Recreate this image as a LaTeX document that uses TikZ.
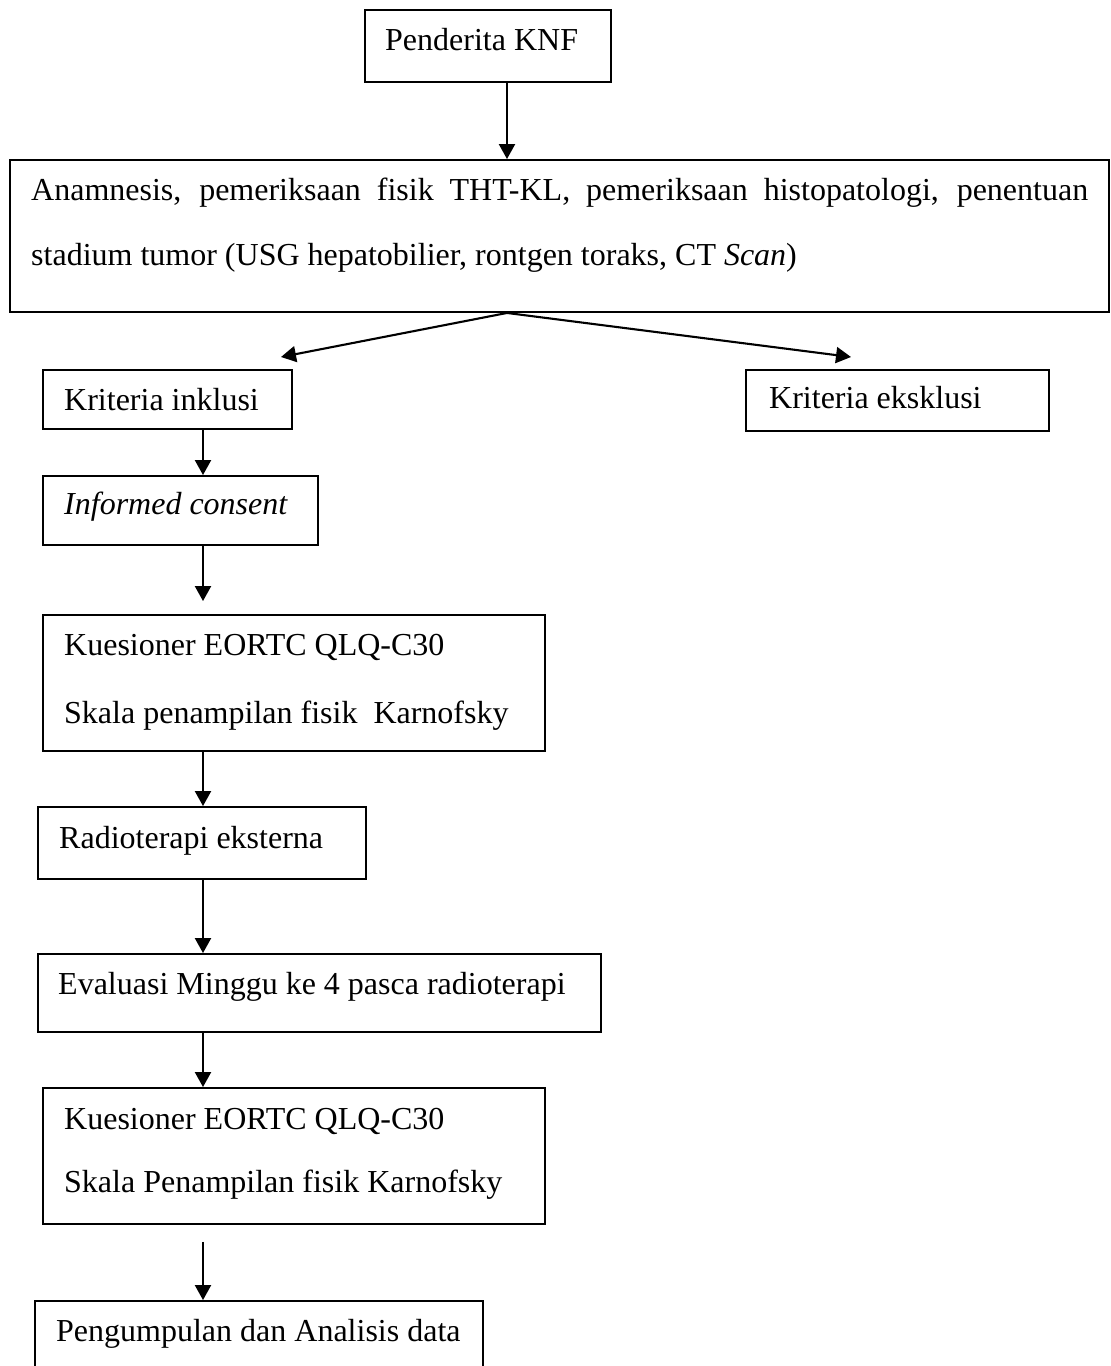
\documentclass[tikz,border=0pt]{standalone}
\usepackage{fontspec}
\setmainfont{Liberation Serif}
\usetikzlibrary{arrows.meta}
\begin{document}
\begin{tikzpicture}[x=1pt,y=-1pt,
  box/.style={draw, line width=1.9pt, inner sep=0pt},
  txt/.style={anchor=base west, inner sep=0pt, font=\fontsize{32pt}{38pt}\selectfont},
  arr/.style={line width=2.1pt, -{Triangle[width=16pt,length=15pt]}}]
\clip (0,0) rectangle (1111,1366);
\fill[white] (0,0) rectangle (1111,1366);
% boxes
\node[box, minimum width=246pt, minimum height=72pt] (b1) at (488,46) {};
\node[box, minimum width=1099pt, minimum height=152pt] (b2) at (559.5,236) {};
\node[box, minimum width=249pt, minimum height=59pt] (inkl) at (167.5,399.5) {};
\node[box, minimum width=303pt, minimum height=61pt] (eks) at (897.5,400.5) {};
\node[box, minimum width=275pt, minimum height=69pt] (ic) at (180.5,510.5) {};
\node[box, minimum width=502pt, minimum height=136pt] (k1) at (294,683) {};
\node[box, minimum width=328pt, minimum height=72pt] (rad) at (202,843) {};
\node[box, minimum width=563pt, minimum height=78pt] (ev) at (319.5,993) {};
\node[box, minimum width=502pt, minimum height=136pt] (k2) at (294,1156) {};
\node[box, minimum width=448pt, minimum height=89pt] (peng) at (259,1345.5) {};
% texts
\node[txt] (t1) at (385,50) {Penderita KNF};
\node[txt] (t2a) at (31,200) {\makebox[1057pt][s]{Anamnesis, pemeriksaan fisik THT-KL, pemeriksaan histopatologi, penentuan}};
\node[txt] (t2b) at (31,265) {stadium tumor (USG hepatobilier, rontgen toraks, CT \textit{Scan})};
\node[txt] (t3) at (64,410) {Kriteria inklusi};
\node[txt] (t4) at (769,408) {Kriteria eksklusi};
\node[txt] (t5) at (64,514) {\textit{Informed consent}};
\node[txt] (t6a) at (64,655) {Kuesioner EORTC QLQ-C30};
\node[txt] (t6b) at (64,723) {Skala penampilan fisik \ Karnofsky};
\node[txt] (t7) at (59,848) {Radioterapi eksterna};
\node[txt] (t8) at (58,994) {Evaluasi Minggu ke 4 pasca radioterapi};
\node[txt] (t9a) at (64,1129) {Kuesioner EORTC QLQ-C30};
\node[txt] (t9b) at (64,1192) {Skala Penampilan fisik Karnofsky};
\node[txt] (t10) at (56,1341) {Pengumpulan dan Analisis data};
% connectors
\coordinate (tx) at (507,0);
\coordinate (cx) at (203,0);
\coordinate (inTip) at (281,357);
\coordinate (exTip) at (851,357);
\draw[arr] (b1.south -| tx) -- (b2.north -| tx);
\draw[arr] (b2.south -| tx) -- (inTip);
\draw[arr] (b2.south -| tx) -- (exTip);
\draw[arr] (inkl.south -| cx) -- (ic.north -| cx);
\draw[arr, shorten >=13pt] (ic.south -| cx) -- (k1.north -| cx);
\draw[arr] (k1.south -| cx) -- (rad.north -| cx);
\draw[arr] (rad.south -| cx) -- (ev.north -| cx);
\draw[arr] (ev.south -| cx) -- (k2.north -| cx);
\draw[arr, shorten <=17pt] (k2.south -| cx) -- (peng.north -| cx);
\end{tikzpicture}
\end{document}
